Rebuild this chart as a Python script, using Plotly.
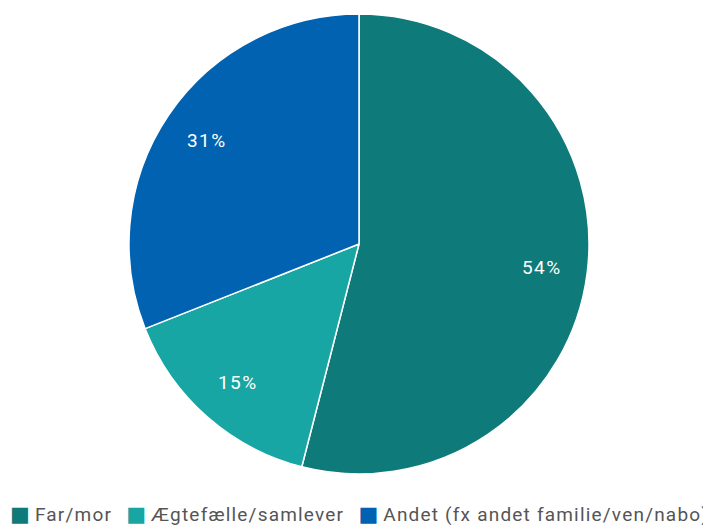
import math
import plotly.graph_objects as go

labels = ["Far/mor", "Ægtefælle/samlever", "Andet (fx andet familie/ven/nabo)"]
values = [54, 15, 31]
colors = ["#0E7A7A", "#17A6A3", "#0062B1"]

W, H = 703, 518          # page body has an 8px default margin
ML, MR, MT, MB = 0, 1, 6, 52
plot_w = W - ML - MR
plot_h = H - MT - MB
radius_px = min(plot_w, plot_h) / 2
label_frac = 0.8

total = sum(values)
annotations = []
acc = 0
for v in values:
    ang = math.radians((acc + v / 2) / total * 360)
    acc += v
    annotations.append(dict(
        x=0.5 + label_frac * radius_px * math.sin(ang) / plot_w,
        y=0.5 + label_frac * radius_px * math.cos(ang) / plot_h,
        xref="paper", yref="paper", xanchor="center", yanchor="middle",
        text=f"<span style=\"letter-spacing:1.4px\">{round(v / total * 100)}%</span>",
        showarrow=False,
        font=dict(color="white", size=19, family="Roboto"),
    ))

# legend drawn as one line of text
items = []
for lab, col in zip(labels, colors):
    items.append(
        f"<span style=\"font-family:'DejaVu Sans';font-size:21px;color:{col}\">\u25a0</span>"
        f"<span style=\"letter-spacing:1.2px\">\u2009{lab}</span>"
    )
legend_text = "<span>\u00a0\u00a0\u00a0</span>".join(items)
annotations.append(dict(
    x=0, y=-40 / plot_h,
    xref="paper", yref="paper", xanchor="left", yanchor="middle",
    text=legend_text, showarrow=False,
    font=dict(color="#555555", size=19, family="Roboto"),
))

fig = go.Figure()
fig.add_trace(go.Pie(
    labels=labels,
    values=values,
    sort=False,
    direction="clockwise",
    rotation=0,
    marker=dict(colors=colors, line=dict(color="white", width=1.5)),
    textinfo="none",
    hoverinfo="label+percent",
    showlegend=False,
))

fig.update_layout(
    width=W, height=H,
    margin=dict(l=ML, r=MR, t=MT, b=MB, autoexpand=False),
    paper_bgcolor="white",
    plot_bgcolor="white",
    font=dict(family="Roboto", size=19, color="#555555"),
    showlegend=False,
    annotations=annotations,
)

fig.write_html("out.html")
